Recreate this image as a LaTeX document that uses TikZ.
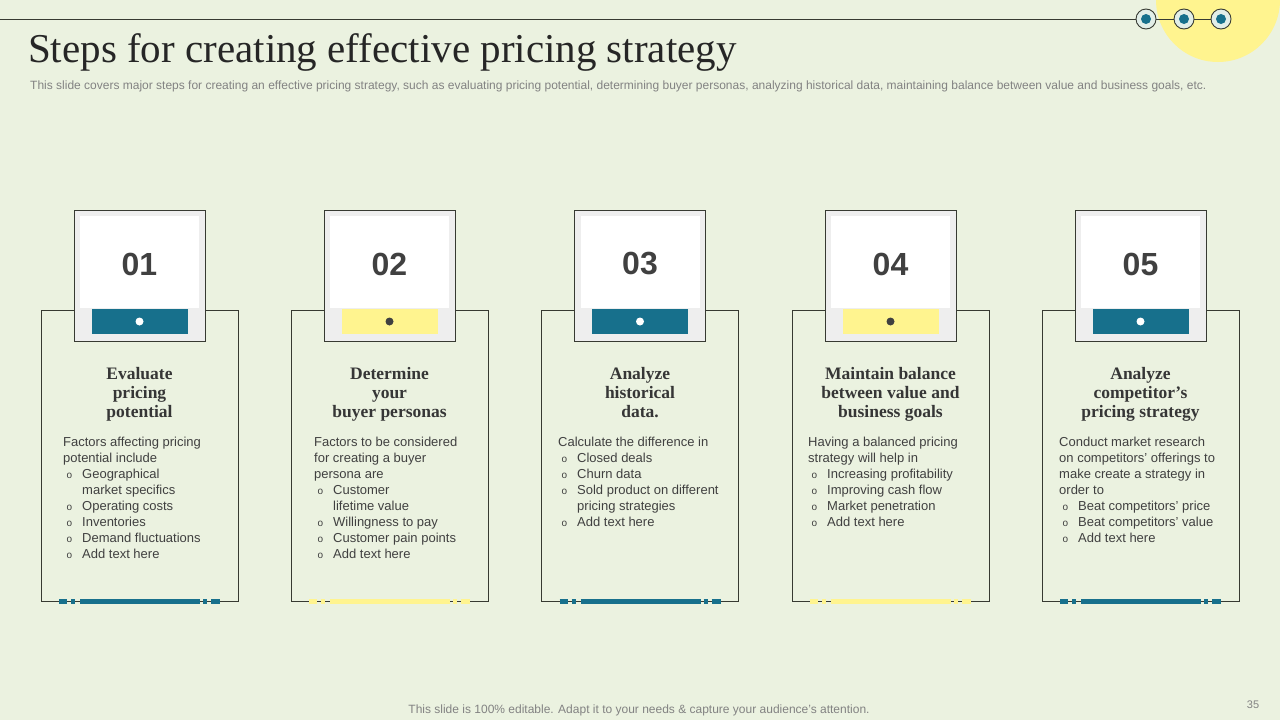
\documentclass[tikz,border=0pt]{standalone}
\usepackage{fontspec}
\setmainfont{Liberation Serif}
\setsansfont{Liberation Sans}
\usetikzlibrary{positioning}

\definecolor{bgc}{RGB}{235,242,224}
\definecolor{linec}{RGB}{55,58,50}
\definecolor{tealc}{RGB}{23,112,140}
\definecolor{yellowc}{RGB}{255,244,143}
\definecolor{boxgrey}{RGB}{238,238,238}
\definecolor{textc}{RGB}{64,64,64}
\definecolor{subc}{RGB}{130,130,130}
\definecolor{ringc}{RGB}{226,238,232}

\newcommand{\bulo}{\makebox[19pt][l]{\hspace{3.5pt}{\fontsize{10}{10}\selectfont o}}}
\newcommand{\bulgap}{\hspace*{19pt}}

\begin{document}
\begin{tikzpicture}[x=1pt, y=-1pt,
  cardbox/.style={draw=linec, line width=0.9pt, minimum width=197pt, minimum height=291pt, inner sep=0pt},
  numbox/.style={draw=linec, line width=0.9pt, fill=boxgrey, minimum width=131pt, minimum height=131pt, inner sep=0pt},
  whitebox/.style={fill=white, minimum width=119pt, minimum height=92pt, inner sep=0pt},
  barbox/.style={fill=#1, minimum width=96pt, minimum height=25pt, inner sep=0pt},
  numtext/.style={text=textc, font=\sffamily\bfseries\fontsize{32}{32}\selectfont},
  headtext/.style={text=textc!85!black, align=center, anchor=north, inner sep=0pt, font=\bfseries\fontsize{17.5}{19}\selectfont},
  bodytext/.style={text=textc, align=left, anchor=north west, inner sep=0pt, font=\sffamily\fontsize{13}{16}\selectfont},
  footbar/.style={draw=#1, line width=5pt, dash pattern=on 8pt off 4pt on 4pt off 5pt on 120pt off 3pt on 4pt off 4pt on 9pt},
  ring/.style={circle, draw=linec, fill=ringc, line width=0.9pt, minimum size=20pt, inner sep=0pt}]

% background and page
\fill[bgc] (0,0) rectangle (1280,720);
\useasboundingbox (0,0) rectangle (1280,720);
\begin{scope}
\clip (0,0) rectangle (1280,720);
\fill[yellowc] (1218,0) circle (62pt);
\end{scope}

% top rule with rings
\node (ring1) at (1146,19) [ring] {};
\node (ring2) at (1184,19) [ring] {};
\node (ring3) at (1221,19) [ring] {};
\coordinate (rulestart) at (0,19);
\draw[linec, line width=0.9pt] (rulestart) -- (ring1);
\draw[linec, line width=0.9pt] (ring1) -- (ring2);
\draw[linec, line width=0.9pt] (ring2) -- (ring3);
\fill[tealc] (ring1) circle (5pt);
\fill[tealc] (ring2) circle (5pt);
\fill[tealc] (ring3) circle (5pt);

% title
\node (title) at (28,62) [anchor=base west, inner sep=0pt, text=black!85, font=\fontsize{41}{41}\selectfont] {Steps for creating effective pricing strategy};
\node (subtitle) at (30,89) [anchor=base west, inner sep=0pt, text=subc, font=\sffamily\fontsize{12}{12}\selectfont] {This slide covers major steps for creating an effective pricing strategy, such as evaluating pricing potential, determining buyer personas, analyzing historical data, maintaining balance between value and business goals, etc.};

% card 1
\node (card1) at (139.5,455.5) [cardbox] {};
\node (nbox1) at (139.5,275.5) [numbox] {};
\node (white1) at (139.5,262) [whitebox] {};
\node (bar1) at (139.5,321.5) [barbox=tealc] {};
\fill[white] (bar1) circle (4pt);
\node (num1) at (139.5,264) [numtext] {01};
\node (head1) at (139.5,367) [headtext] {Evaluate\\pricing\\potential};
\node (body1) at (63,437) [bodytext] {Factors affecting pricing\\potential include\\\bulo Geographical\\\bulgap market specifics\\\bulo Operating costs\\\bulo Inventories\\\bulo Demand fluctuations\\\bulo Add text here};
\draw[footbar=tealc] (59,601) -- (220,601);

% card 2
\node (card2) at (389.5,455.5) [cardbox] {};
\node (nbox2) at (389.5,275.5) [numbox] {};
\node (white2) at (389.5,262) [whitebox] {};
\node (bar2) at (389.5,321.5) [barbox=yellowc] {};
\fill[textc] (bar2) circle (4pt);
\node (num2) at (389.5,264) [numtext] {02};
\node (head2) at (389.5,367) [headtext] {Determine\\your\\buyer personas};
\node (body2) at (314,437) [bodytext] {Factors to be considered\\for creating a buyer\\persona are\\\bulo Customer\\\bulgap lifetime value\\\bulo Willingness to pay\\\bulo Customer pain points\\\bulo Add text here};
\draw[footbar=yellowc] (309,601) -- (470,601);

% card 3
\node (card3) at (640,455.5) [cardbox] {};
\node (nbox3) at (640,275.5) [numbox] {};
\node (white3) at (640,262) [whitebox] {};
\node (bar3) at (640,321.5) [barbox=tealc] {};
\fill[white] (bar3) circle (4pt);
\node (num3) at (640,264) [numtext] {03};
\node (head3) at (640,367) [headtext] {Analyze\\historical\\data.};
\node (body3) at (558,437) [bodytext] {Calculate the difference in\\\bulo Closed deals\\\bulo Churn data\\\bulo Sold product on different\\\bulgap pricing strategies\\\bulo Add text here};
\draw[footbar=tealc] (559.5,601) -- (720.5,601);

% card 4
\node (card4) at (890.5,455.5) [cardbox] {};
\node (nbox4) at (890.5,275.5) [numbox] {};
\node (white4) at (890.5,262) [whitebox] {};
\node (bar4) at (890.5,321.5) [barbox=yellowc] {};
\fill[textc] (bar4) circle (4pt);
\node (num4) at (890.5,264) [numtext] {04};
\node (head4) at (890.5,367) [headtext] {Maintain balance\\between value and\\business goals};
\node (body4) at (808,437) [bodytext] {Having a balanced pricing\\strategy will help in\\\bulo Increasing profitability\\\bulo Improving cash flow\\\bulo Market penetration\\\bulo Add text here};
\draw[footbar=yellowc] (810,601) -- (971,601);

% card 5
\node (card5) at (1140.5,455.5) [cardbox] {};
\node (nbox5) at (1140.5,275.5) [numbox] {};
\node (white5) at (1140.5,262) [whitebox] {};
\node (bar5) at (1140.5,321.5) [barbox=tealc] {};
\fill[white] (bar5) circle (4pt);
\node (num5) at (1140.5,264) [numtext] {05};
\node (head5) at (1140.5,367) [headtext] {Analyze\\competitor’s\\pricing strategy};
\node (body5) at (1059,437) [bodytext] {Conduct market research\\on competitors’ offerings to\\make create a strategy in\\order to\\\bulo Beat competitors’ price\\\bulo Beat competitors’ value\\\bulo Add text here};
\draw[footbar=tealc] (1060,601) -- (1221,601);

% footer
\node (footer) at (639,710) [text=subc, font=\sffamily\fontsize{12}{12}\selectfont] {This slide is 100\% editable. Adapt it to your needs \& capture your audience’s attention.};
\node (pageno) at (1253,705) [text=subc, font=\sffamily\fontsize{11}{12}\selectfont] {35};

\end{tikzpicture}
\end{document}
